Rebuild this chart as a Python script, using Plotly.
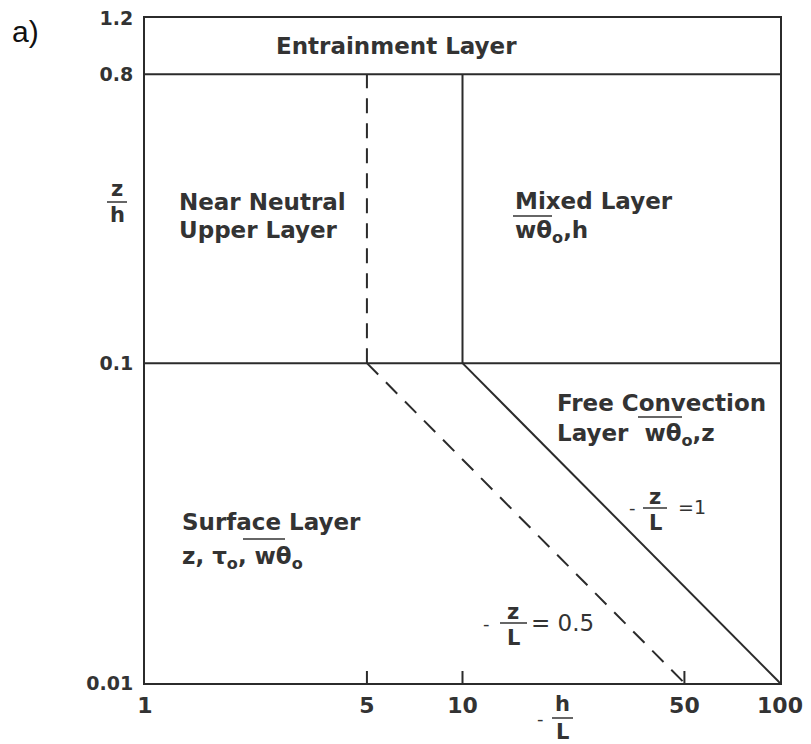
import math
import plotly.graph_objects as go

# ---- data ----
x_tick_vals = [1, 5, 10, 50, 100]
x_tick_text = ["1", "5", "10", "50", "100"]
x_inner_ticks = [5, 10, 50]
y_tick_vals = [0.01, 0.1, 0.8, 1.2]
y_tick_text = ["0.01", "0.1", "0.8", "1.2"]

x_range = [1, 100]
y_range = [0.01, 1.2]
entrainment_base = 0.8      # z/h
surface_top = 0.1           # z/h

neutral_x = [5, 5]          # -h/L (dashed boundary)
neutral_y = [0.1, 0.8]
mixed_x = [10, 10]          # -h/L (solid boundary)
mixed_y = [0.1, 0.8]

zl05_x = [5, 50]            # -z/L = 0.5
zl05_y = [0.1, 0.01]
zl1_x = [10, 100]           # -z/L = 1
zl1_y = [0.1, 0.01]

LINE = "#2b2b2b"
TXT = "#333333"

fig = go.Figure()

def seg(x, y, dash="solid"):
    fig.add_trace(go.Scatter(x=x, y=y, mode="lines", showlegend=False,
                             hoverinfo="skip",
                             line=dict(color=LINE, width=2, dash=dash)))

seg(x_range, [entrainment_base, entrainment_base])
seg(x_range, [surface_top, surface_top])
seg(neutral_x, neutral_y, "15px,10px")
seg(mixed_x, mixed_y)
seg(zl05_x, zl05_y, "16px,11px")
seg(zl1_x, zl1_y)

# plot area in pixels
L, R, T, B = 145, 780, 18, 683
W, H = 811, 744

def px(x):
    return (x - L) / (R - L)

def py(y):
    return (B - y) / (B - T)

annots = []

def txt(s, x, y, size=23, anchor="left", bold=True, color=TXT, family="DejaVu Sans"):
    annots.append(dict(text=s, x=px(x), y=py(y), xref="paper", yref="paper",
                       xanchor=anchor, yanchor="middle", showarrow=False,
                       font=dict(family=family, size=size, color=color,
                                 weight="bold" if bold else "normal")))

shapes = []

def bar(x0, x1, y, w=1.5):
    shapes.append(dict(type="line", xref="paper", yref="paper",
                       x0=px(x0), x1=px(x1), y0=py(y), y1=py(y),
                       line=dict(color=TXT, width=w)))

# inward tick marks on the x axis, placed on the log scale
lx0, lx1 = math.log10(x_range[0]), math.log10(x_range[1])
for xv in x_inner_ticks:
    xf = (math.log10(xv) - lx0) / (lx1 - lx0)
    shapes.append(dict(type="line", xref="paper", yref="paper",
                       x0=xf, x1=xf, y0=0, y1=12 / (B - T),
                       line=dict(color=LINE, width=2)))

# region labels
txt("Entrainment Layer", 396, 46, anchor="center")
txt("Near Neutral", 177, 202)
txt("Upper Layer", 177, 230)
txt("Mixed Layer", 513, 201)
txt("wθ<sub>o</sub>,h", 513, 232)
bar(513, 552, 216)
txt("Free Convection", 555, 403)
txt("Layer  wθ<sub>o</sub>,z", 555, 435)
bar(638, 682, 417)
txt("Surface Layer", 180, 522)
txt("z, τ<sub>o</sub>, wθ<sub>o</sub>", 180, 558)
bar(243, 285, 539)

# -z/L = 1
txt("-", 632, 507, size=18, anchor="center", bold=False)
txt("z", 655, 497, size=21, anchor="center")
bar(643, 667, 508)
txt("L", 655, 523, size=21, anchor="center")
txt("=1", 676, 507, size=19, bold=False)

# -z/L = 0.5
txt("-", 486, 623, size=18, anchor="center", bold=False)
txt("z", 513, 612, size=21, anchor="center")
bar(500, 527, 623)
txt("L", 513, 638, size=21, anchor="center")
txt("= 0.5", 529, 623, size=23, bold=False)

# axis labels
txt("-", 540, 718, size=18, anchor="center", bold=False)
txt("h", 562, 704, size=21, anchor="center")
bar(552, 573, 718)
txt("L", 562, 732, size=21, anchor="center")

txt("z", 117, 189, size=21, anchor="center")
bar(107, 127, 202)
txt("h", 117, 215, size=21, anchor="center")

txt("a)", 10, 32, size=30, bold=False, color="#111111", family="Liberation Sans")

fig.update_layout(
    template="none",
    width=W, height=H,
    margin=dict(l=L, r=W - R, t=T, b=H - B, pad=0, autoexpand=False),
    paper_bgcolor="white", plot_bgcolor="white",
    annotations=annots, shapes=shapes,
    xaxis=dict(type="log", range=[lx0, lx1], showgrid=False, zeroline=False,
               automargin=False,
               tickmode="array", tickvals=x_tick_vals, ticktext=x_tick_text,
               ticks="", showline=True, linecolor=LINE, linewidth=2, mirror=True,
               ticklabelstandoff=2,
               tickfont=dict(family="DejaVu Sans", size=22, color=TXT, weight="bold")),
    yaxis=dict(type="log", range=[math.log10(y_range[0]), math.log10(y_range[1])],
               showgrid=False, zeroline=False, automargin=False,
               tickvals=y_tick_vals, ticktext=y_tick_text,
               ticks="", showline=True, linecolor=LINE, linewidth=2, mirror=True,
               ticklabelstandoff=6,
               tickfont=dict(family="DejaVu Sans", size=19, color=TXT, weight="bold")),
)

fig.write_html("out.html")
